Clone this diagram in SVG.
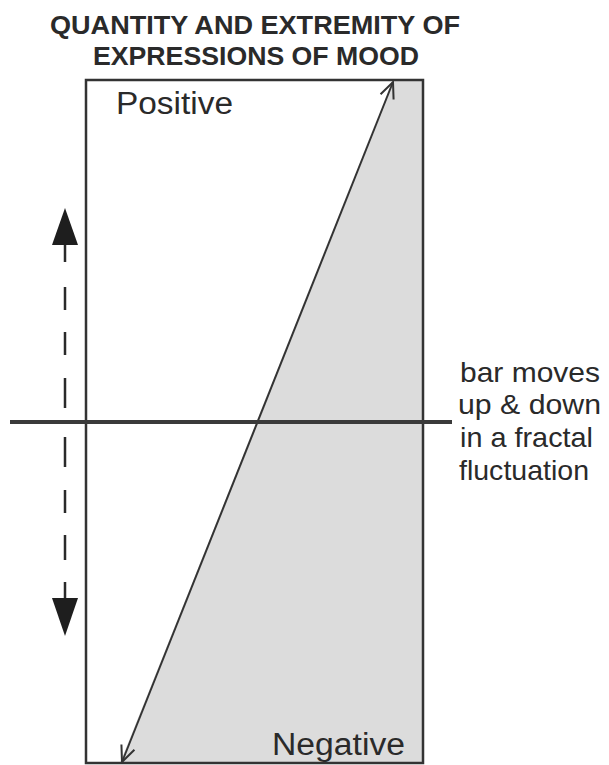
<svg xmlns="http://www.w3.org/2000/svg" width="609" height="765" viewBox="0 0 609 765">
<style>
text{font-family:"Liberation Sans",Arial,Helvetica,sans-serif;fill:#2a2a2a}
.title{font-weight:bold;font-size:26px}
.lab{font-size:31px}
.side{font-size:28px}
.ln{stroke:#333;fill:none}
</style>
<defs>
<marker id="open" viewBox="0 0 20 20" refX="18" refY="10" markerWidth="20" markerHeight="20" markerUnits="userSpaceOnUse" orient="auto-start-reverse">
<path d="M2,3 L18,10 L2,17" fill="none" stroke="#333" stroke-width="2"/>
</marker>
</defs>
<rect width="609" height="765" fill="#fff"/>
<g id="title">
<text class="title" x="255" y="34" text-anchor="middle" textLength="410" lengthAdjust="spacingAndGlyphs">QUANTITY AND EXTREMITY OF</text>
<text class="title" x="256" y="65" text-anchor="middle" textLength="326" lengthAdjust="spacingAndGlyphs">EXPRESSIONS OF MOOD</text>
</g>
<g id="box">
<polygon points="394,80 423,80 423,763 120,763" fill="#dcdcdc"/>
<rect x="86" y="80" width="337" height="683" class="ln" stroke-width="2.5"/>
<text class="lab" x="116" y="114" textLength="117" lengthAdjust="spacingAndGlyphs">Positive</text>
<text class="lab" x="272" y="755" textLength="133" lengthAdjust="spacingAndGlyphs">Negative</text>
</g>
<g id="connectors">
<line x1="122" y1="762" x2="393" y2="82" class="ln" stroke-width="2" marker-start="url(#open)" marker-end="url(#open)"/>
<line x1="10" y1="422" x2="452" y2="422" stroke="#3a3a3a" stroke-width="4"/>
<g id="moveArrow" stroke="#2a2a2a" stroke-width="2.5">
<path d="M65,244V262 M65,287V310 M65,332V355 M65,378V408 M65,437V467 M65,490V513 M65,535V560 M65,582V600"/>
<polygon points="65,208 52,245 78,245" fill="#1e1e1e" stroke="none"/>
<polygon points="65,636 52,598 78,598" fill="#1e1e1e" stroke="none"/>
</g>
</g>
<g id="note">
<text class="side" x="460" y="382" textLength="140" lengthAdjust="spacingAndGlyphs">bar moves</text>
<text class="side" x="458" y="414" textLength="143" lengthAdjust="spacingAndGlyphs">up &amp; down</text>
<text class="side" x="460" y="447" textLength="133" lengthAdjust="spacingAndGlyphs">in a fractal</text>
<text class="side" x="459" y="480" textLength="130" lengthAdjust="spacingAndGlyphs">fluctuation</text>
</g>
</svg>
